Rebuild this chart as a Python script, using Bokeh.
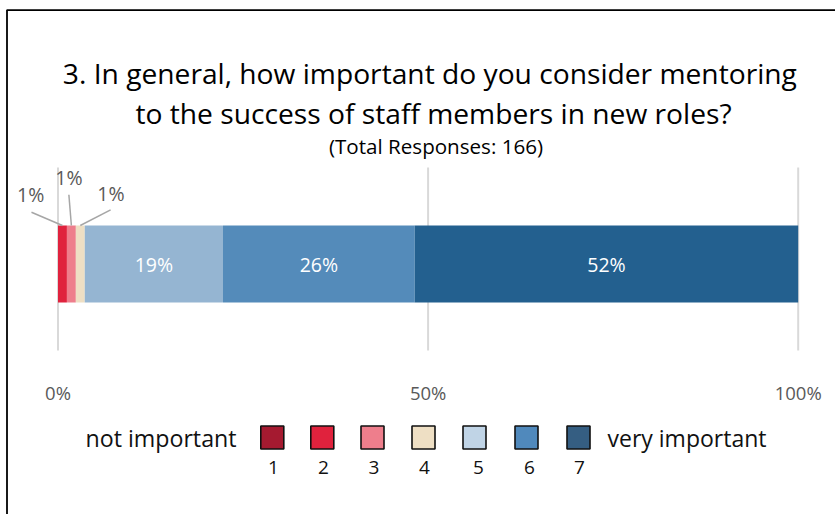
from bokeh.plotting import figure
from bokeh.models import Range1d, ColumnDataSource
from bokeh.core.properties import value
from bokeh.embed import file_html
from bokeh.resources import INLINE

# ---------------- data ----------------
title_lines = ["3.  In general, how important do you consider mentoring",
               "to the success of staff members in new roles?"]
total_responses = 166
categories = ["1", "2", "3", "4", "5", "6", "7"]
counts = [0, 2, 2, 2, 31, 43, 86]
bar_colors = ["#A51A30", "#E0223D", "#EE7E8C", "#EEDFC4", "#95B5D2", "#548BBA", "#23608F"]
legend_colors = ["#A51A30", "#E0223D", "#EE7E8C", "#EEDFC4", "#C0D4E6", "#5089BC", "#355E82"]
tick_values = [0, 0.5, 1.0]
tick_labels = ["0%", "50%", "100%"]
legend_low = "not important"
legend_high = "very important"

# ---------------- layout (pixels) ----------------
W, H = 835, 514
X0_PX, X1_PX = 57.5, 797.7          # pixel positions of 0% and 100%
SCALE = X1_PX - X0_PX
FONT = "Open Sans"

def px2x(px):
    return (px - X0_PX) / SCALE

p = figure(width=W, height=H, output_backend="svg", toolbar_location=None,
           x_range=Range1d(px2x(0), px2x(W)), y_range=Range1d(H, 0),
           min_border=0, min_border_left=0, min_border_right=0,
           min_border_top=0, min_border_bottom=0)
p.axis.visible = False
p.grid.visible = False
p.outline_line_color = None
p.background_fill_color = "white"
p.border_fill_color = "white"

# border of chart area
p.line(x=[px2x(6.5), px2x(6.5), px2x(W + 5)], y=[H + 5, 9.6, 9.6],
       line_color="black", line_width=1.8)

# title
TX = px2x(433)
p.text(x=[TX, TX], y=[72, 112], text=title_lines,
       text_font=value(FONT), text_font_size="28.2px", text_color="#000000",
       text_align="center", text_baseline="middle")
p.text(x=[px2x(435.5)], y=[145.5], text=[f"(Total Responses: {total_responses})"],
       text_font=value(FONT), text_font_size="20.6px", text_color="#000000",
       text_align="center", text_baseline="middle")

# gridlines
GRID_TOP, GRID_BOT = 167, 350
p.segment(x0=tick_values, x1=tick_values, y0=[GRID_TOP] * 3, y1=[GRID_BOT] * 3,
          line_color="#D9D9D9", line_width=2)
p.text(x=tick_values, y=[392] * 3, text=tick_labels, text_font=value(FONT),
       text_font_size="18.5px", text_color="#595959", text_align="center",
       text_baseline="middle")

# stacked bar
fracs = [c / total_responses for c in counts]
lefts, rights = [], []
acc = 0.0
for f in fracs:
    lefts.append(acc)
    acc += f
    rights.append(acc)
BAR_TOP, BAR_BOT = 225, 302
src = ColumnDataSource(dict(left=lefts, right=rights, color=bar_colors))
p.quad(left="left", right="right", top=BAR_TOP, bottom=BAR_BOT, fill_color="color",
       line_color=None, source=src)

labels = [f"{round(f * 100)}%" for f in fracs]
mids = [(l + r) / 2 for l, r in zip(lefts, rights)]
# large segments: white labels inside
inside = [i for i, f in enumerate(fracs) if f >= 0.05]
p.text(x=[mids[i] for i in inside], y=[(BAR_TOP + BAR_BOT) / 2] * len(inside),
       text=[labels[i] for i in inside], text_font=value(FONT), text_font_size="19.5px",
       text_color="white", text_align="center", text_baseline="middle")

# small segments: callouts with leader lines
small = [i for i, f in enumerate(fracs) if 0 < f < 0.05]
line_end = [(-31, -13.3), (-2.5, -30.7), (30.3, -15.7)]
label_off = [(-31.7, -31), (-2.5, -48.5), (30.6, -32.5)]
for k, i in enumerate(small):
    ax, ay = mids[i], BAR_TOP
    ex, ey = line_end[k]
    p.segment(x0=[ax], y0=[ay], x1=[ax + ex / SCALE], y1=[ay + ey],
              line_color="#A6A6A6", line_width=1.5)
    lx, ly = label_off[k]
    p.text(x=[ax + lx / SCALE], y=[ay + ly], text=[labels[i]], text_font=value(FONT),
           text_font_size="19.5px", text_color="#595959", text_align="center",
           text_baseline="middle")

# legend
LEG_Y, NUM_Y = 437, 467
leg_px = [271.8, 321.8, 372, 423, 474, 526, 578]
num_px = [273, 323, 373.5, 424, 478, 529, 579]
p.scatter(x=[px2x(v) for v in leg_px], y=[LEG_Y] * len(categories), marker="square",
          size=23, fill_color=legend_colors, line_color="#111111", line_width=1.6)
p.text(x=[px2x(v) for v in num_px], y=[NUM_Y] * len(categories), text=categories,
       text_font=value(FONT), text_font_size="19px", text_color="#111111",
       text_align="center", text_baseline="middle")
p.text(x=[px2x(236)], y=[LEG_Y], text=[legend_low], text_font=value(FONT),
       text_font_size="23.2px", text_color="#111111", text_align="right",
       text_baseline="middle")
p.text(x=[px2x(607)], y=[LEG_Y], text=[legend_high], text_font=value(FONT),
       text_font_size="23px", text_color="#111111", text_align="left",
       text_baseline="middle")

open("out.html", "w").write(file_html(p, INLINE))
